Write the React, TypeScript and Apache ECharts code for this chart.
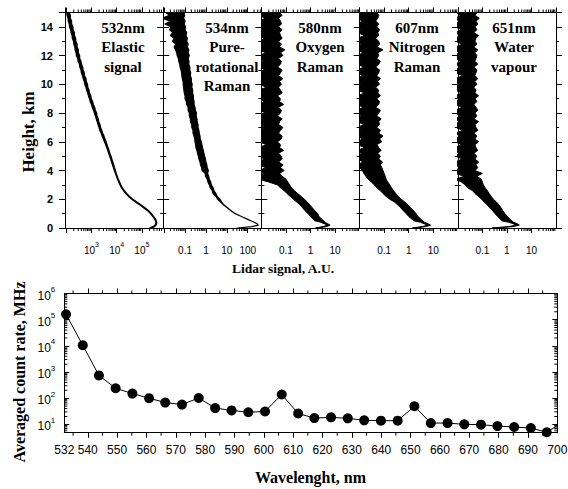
import React, { useEffect, useRef } from 'react';
import * as echarts from 'echarts';

// ---------- data ----------
const HEIGHTS = [0, 0.1, 0.2, 0.3, 0.4, 0.5, 0.6, 0.8, 1.0, 1.2, 1.4, 1.6, 1.8, 2.0, 2.2, 2.4, 2.6, 2.8, 3.0, 3.2, 3.4, 3.6, 3.8,
  4.0, 4.2, 4.4, 4.6, 4.8, 5.0, 5.2, 5.4, 5.6, 5.8, 6.0, 6.2, 6.4, 6.6, 6.8, 7.0, 7.2, 7.4, 7.6, 7.8,
  8.0, 8.2, 8.4, 8.6, 8.8, 9.0, 9.2, 9.4, 9.6, 9.8, 10.0, 10.2, 10.4, 10.6, 10.8, 11.0, 11.2, 11.4, 11.6, 11.8,
  12.0, 12.2, 12.4, 12.6, 12.8, 13.0, 13.2, 13.4, 13.6, 13.8, 14.0, 14.2, 14.4, 14.6, 14.8, 15.0];

// lower / upper edge of each noisy lidar trace, one value per height
const LO_532 = [220000, 300000, 350000, 370000, 372000, 360000, 340000,
  280000, 230000, 178000, 126000, 89000, 60000, 42000, 31000, 24000, 19500, 16200, 14100, 12600, 11200, 10200, 9300,
  8400, 7700, 7100, 6500, 6000, 5500, 5000, 4600, 4200, 3800,
  3400, 3100, 2780, 2520, 2230, 2080, 1900, 1760, 1610, 1500,
  1360, 1250, 1120, 1040, 930, 870, 790, 740, 670, 630,
  570, 540, 490, 460, 415, 400, 360, 350, 308, 298,
  265, 255, 235, 228, 208, 204, 182, 178, 162, 158,
  140, 138, 125, 123, 112, 109];
const HI_532 = [220000, 300000, 350000, 370000, 372000, 360000, 340000,
  280000, 230000, 178000, 126000, 89000, 60000, 42000, 31000, 24000, 19500, 16200, 14100, 12600, 11200, 10200, 9300,
  8700, 7950, 7350, 6750, 6250, 5750, 5200, 4800, 4400, 4000,
  3700, 3300, 3050, 2680, 2480, 2220, 2120, 1880, 1800, 1600,
  1560, 1380, 1300, 1150, 1080, 950, 920, 810, 780, 690,
  680, 605, 590, 515, 505, 450, 440, 390, 375, 332,
  330, 292, 295, 262, 262, 233, 230, 205, 205, 182,
  178, 158, 159, 141, 142, 125];

const LO_534 = [32, 160, 316, 280, 200, 141, 100,
  50, 25, 15.5, 10.4, 7.0, 5.1, 3.6, 3.0, 2.2, 2.0, 1.6, 1.45, 1.25, 1.15, 0.95, 0.92,
  0.66, 0.62, 0.55, 0.52, 0.46, 0.43, 0.40, 0.37, 0.33, 0.32,
  0.30, 0.29, 0.27, 0.24, 0.24, 0.21, 0.21, 0.18, 0.18, 0.16,
  0.16, 0.14, 0.14, 0.12, 0.115, 0.10, 0.10, 0.092, 0.088, 0.085,
  0.082, 0.08, 0.074, 0.07, 0.068, 0.064, 0.058, 0.056, 0.05, 0.048,
  0.042, 0.04, 0.035, 0.03, 0.036, 0.025, 0.03, 0.02, 0.026, 0.018,
  0.022, 0.011, 0.02, 0.008, 0.018, 0.012];
const HI_534 = [32, 160, 316, 280, 200, 141, 100,
  50, 25, 16.2, 11, 7.4, 5.7, 4.7, 3.5, 3.0, 2.4, 2.2, 1.8, 1.7, 1.45, 1.35, 1.2,
  1.3, 1.15, 1.1, 1.0, 0.95, 0.86, 0.8, 0.75, 0.68, 0.64,
  0.6, 0.53, 0.52, 0.48, 0.46, 0.42, 0.42, 0.38, 0.37, 0.34,
  0.35, 0.31, 0.3, 0.27, 0.27, 0.25, 0.25, 0.23, 0.23, 0.21,
  0.22, 0.2, 0.2, 0.18, 0.185, 0.17, 0.17, 0.15, 0.155, 0.14,
  0.16, 0.14, 0.15, 0.13, 0.14, 0.12, 0.13, 0.11, 0.12, 0.1,
  0.105, 0.09, 0.1, 0.085, 0.095, 0.09];

const LO_580 = [1.6, 3.2, 5.0, 3.6, 2.6, 1.5, 1.3,
  1.0, 0.8, 0.6, 0.48, 0.38, 0.28, 0.2, 0.15, 0.11, 0.085, 0.06, 0.045, 0.02, 0.008, 0.008, 0.012,
  0.008, 0.015, 0.008, 0.008, 0.013, 0.008, 0.008, 0.011, 0.008, 0.016,
  0.008, 0.008, 0.012, 0.008, 0.008, 0.014, 0.008, 0.008, 0.011, 0.008,
  0.015, 0.008, 0.008, 0.008, 0.013, 0.008, 0.008, 0.012, 0.008, 0.016,
  0.008, 0.008, 0.011, 0.008, 0.008, 0.014, 0.008, 0.008, 0.012, 0.008,
  0.008, 0.015, 0.008, 0.008, 0.011, 0.008, 0.013, 0.008, 0.008, 0.008,
  0.012, 0.008, 0.008, 0.014, 0.008, 0.008];
const HI_580 = [2.2, 4.5, 6.3, 5.0, 3.8, 3.5, 3.0,
  2.2, 2.0, 1.5, 1.2, 0.95, 0.75, 0.57, 0.42, 0.3, 0.22, 0.17, 0.14, 0.12, 0.1, 0.07, 0.055,
  0.085, 0.06, 0.075, 0.05, 0.07, 0.065, 0.05, 0.08, 0.055, 0.06,
  0.045, 0.065, 0.07, 0.05, 0.06, 0.075, 0.05, 0.055, 0.07, 0.045,
  0.06, 0.065, 0.05, 0.08, 0.055, 0.06, 0.045, 0.07, 0.06, 0.05,
  0.065, 0.055, 0.075, 0.05, 0.06, 0.07, 0.045, 0.06, 0.065, 0.05,
  0.075, 0.06, 0.09, 0.055, 0.065, 0.05, 0.07, 0.06, 0.055, 0.07,
  0.05, 0.065, 0.06, 0.05, 0.07, 0.055];

const LO_607 = [1.4, 3.6, 6.0, 4.2, 3.0, 1.6, 1.4,
  1.0, 0.8, 0.6, 0.48, 0.36, 0.27, 0.17, 0.12, 0.09, 0.07, 0.05, 0.04, 0.03, 0.022, 0.018, 0.015,
  0.013, 0.01, 0.008, 0.014, 0.008, 0.008, 0.012, 0.008, 0.016, 0.008,
  0.008, 0.013, 0.008, 0.008, 0.011, 0.008, 0.015, 0.008, 0.008, 0.012,
  0.008, 0.008, 0.014, 0.008, 0.011, 0.008, 0.008, 0.016, 0.008, 0.008,
  0.012, 0.008, 0.008, 0.013, 0.008, 0.008, 0.015, 0.008, 0.011, 0.008,
  0.008, 0.014, 0.008, 0.008, 0.012, 0.008, 0.008, 0.016, 0.008, 0.011,
  0.008, 0.008, 0.013, 0.008, 0.008, 0.012];
const HI_607 = [2.0, 5.0, 7.8, 6.0, 4.4, 3.8, 3.2,
  2.4, 2.0, 1.6, 1.2, 0.95, 0.7, 0.5, 0.38, 0.3, 0.24, 0.2, 0.17, 0.14, 0.12, 0.11, 0.1,
  0.09, 0.08, 0.07, 0.085, 0.06, 0.07, 0.055, 0.075, 0.06, 0.05,
  0.08, 0.065, 0.09, 0.06, 0.07, 0.05, 0.065, 0.06, 0.075, 0.05,
  0.06, 0.07, 0.045, 0.06, 0.065, 0.05, 0.07, 0.055, 0.06, 0.045,
  0.065, 0.055, 0.07, 0.05, 0.06, 0.065, 0.045, 0.06, 0.07, 0.05,
  0.06, 0.055, 0.09, 0.05, 0.065, 0.06, 0.045, 0.06, 0.055, 0.065,
  0.05, 0.06, 0.045, 0.055, 0.06, 0.05];

const LO_651 = [0.25, 1.2, 2.4, 1.8, 1.2, 0.62, 0.55,
  0.42, 0.33, 0.26, 0.2, 0.16, 0.12, 0.093, 0.07, 0.05, 0.04, 0.025, 0.02, 0.014, 0.008, 0.018, 0.008,
  0.008, 0.012, 0.008, 0.008, 0.015, 0.008, 0.011, 0.008, 0.008, 0.014,
  0.008, 0.008, 0.012, 0.008, 0.016, 0.008, 0.008, 0.011, 0.008, 0.013,
  0.008, 0.008, 0.015, 0.008, 0.008, 0.012, 0.008, 0.014, 0.008, 0.008,
  0.011, 0.008, 0.008, 0.016, 0.008, 0.008, 0.012, 0.008, 0.013, 0.008,
  0.008, 0.011, 0.008, 0.008, 0.015, 0.008, 0.008, 0.012, 0.008, 0.014,
  0.008, 0.008, 0.011, 0.008, 0.013, 0.008];
const HI_651 = [0.4, 1.8, 3.2, 2.6, 1.9, 1.6, 1.35,
  1.05, 0.83, 0.68, 0.58, 0.48, 0.38, 0.28, 0.23, 0.19, 0.16, 0.13, 0.11, 0.1, 0.09, 0.06, 0.1,
  0.05, 0.065, 0.055, 0.07, 0.05, 0.06, 0.045, 0.065, 0.055, 0.05,
  0.07, 0.05, 0.06, 0.045, 0.065, 0.055, 0.05, 0.07, 0.045, 0.06,
  0.05, 0.065, 0.055, 0.045, 0.06, 0.05, 0.07, 0.05, 0.055, 0.045,
  0.06, 0.05, 0.065, 0.05, 0.055, 0.06, 0.045, 0.065, 0.05, 0.055,
  0.06, 0.05, 0.065, 0.045, 0.06, 0.05, 0.055, 0.07, 0.045, 0.06,
  0.05, 0.065, 0.055, 0.075, 0.05, 0.06];

const PANEL_LO = [LO_532, LO_534, LO_580, LO_607, LO_651];
const PANEL_HI = [HI_532, HI_534, HI_580, HI_607, HI_651];
const PANEL_TITLES = ['532nm\nElastic\nsignal', '534nm\nPure-\nrotational\nRaman', '580nm\nOxygen\nRaman', '607nm\nNitrogen\nRaman', '651nm\nWater\nvapour'];
const PANEL_MIN = [90, 0.009, 0.01, 0.01, 0.01];
const PANEL_MAX = [700000, 450, 100, 100, 100];
const PANEL_LABELS = [[1000, 10000, 100000], [0.1, 1, 10, 100], [0.1, 1, 10], [0.1, 1, 10], [0.1, 1, 10]];
const PANEL_STROKE = [2, 1.2, 1, 1, 1];
const HEIGHT_MAX = 15;

const WAVELENGTHS = [532.6, 538.3, 543.8, 549.5, 555.2, 560.9, 566.4, 572.1, 577.8, 583.4, 589.0, 594.7, 600.4, 606.1, 611.7,
  617.2, 622.9, 628.6, 634.2, 639.9, 645.6, 651.3, 656.9, 662.6, 668.3, 674.0, 679.6, 685.3, 691.0, 696.4, 702.3];
const COUNT_RATES = [160000, 10500, 740, 240, 150, 100, 68, 57, 102, 42, 34, 29, 31, 138, 26,
  17.4, 18.5, 17, 14.2, 13.8, 13.8, 49, 11.2, 11.2, 10, 9.7, 8.6, 7.9, 7.2, 5.0, 13];
const WL_MIN = 532, WL_MAX = 700;
const WL_LABELS = [532, 540, 550, 560, 570, 580, 590, 600, 610, 620, 630, 640, 650, 660, 670, 680, 690, 700];
const WL_MAJOR = [540, 550, 560, 570, 580, 590, 600, 610, 620, 630, 640, 650, 660, 670, 680, 690];
const WL_MINOR = [535, 545, 555, 565, 575, 585, 595, 605, 615, 625, 635, 645, 655, 665, 675, 685, 695];
const RATE_MIN = 4.8, RATE_MAX = 1000000;

const LOG_MULTS = [2, 3, 4, 5, 6, 7, 8, 9];
const DECADES = [0.001, 0.01, 0.1, 1, 10, 100, 1000, 10000, 100000, 1000000];

// ---------- layout ----------
const SERIF = '"Liberation Serif", "Times New Roman", serif';
const SANS = '"Liberation Sans", Arial, sans-serif';
const TOP_Y = 12.5, TOP_H = 215.5, P_LEFT = 65, P_W = 98.2;
const B_LEFT = 64.3, B_TOP = 293.5, B_W = 493, B_H = 139.2;
const TITLE_X = [123, 227, 320, 417, 514];

const minorList = (min: number, max: number) =>
  DECADES.flatMap(d => LOG_MULTS.map(m => +(m * d).toPrecision(6))).filter(v => v > min * 1.0001 && v < max * 0.9999);

const isNear = (v: number, l: number) => Math.abs(Math.log10(v) - Math.log10(l)) < 0.01;

export default function App() {
  const ref = useRef<HTMLDivElement>(null);
  useEffect(() => {
    if (!ref.current) return;
    const chart = echarts.init(ref.current, undefined, { renderer: 'svg' });
    const black = '#000';
    const grids: any[] = [];
    const xAxes: any[] = [];
    const yAxes: any[] = [];
    const series: any[] = [];
    const graphics: any[] = [];
    const tickLine = (x1: number, y1: number, x2: number, y2: number) =>
      ({ type: 'line', shape: { x1, y1, x2, y2 }, style: { stroke: black, lineWidth: 1 } });

    const richTop = {
      b: { fontSize: 10, lineHeight: 14, verticalAlign: 'bottom', fontFamily: SANS, color: black },
      s: { fontSize: 7, lineHeight: 7, verticalAlign: 'top', fontFamily: SANS, color: black },
    };

    for (let i = 0; i < 5; i++) {
      grids.push({ left: P_LEFT + i * P_W, top: TOP_Y, width: P_W, height: TOP_H, containLabel: false, outerBoundsMode: 'none' });
      const labels = PANEL_LABELS[i];
      const common = {
        type: 'log', logBase: 10, gridIndex: i, min: PANEL_MIN[i], max: PANEL_MAX[i],
        axisLine: { show: true, onZero: false, lineStyle: { color: black, width: 1 } },
        axisTick: { show: true, inside: false, length: 5, lineStyle: { color: black, width: 1 } },
        splitLine: { show: false },
      };
      xAxes.push({
        ...common, position: 'bottom',
        axisLabel: {
          show: true, margin: 13, interval: 0, showMinLabel: false, showMaxLabel: false, rich: richTop,
          formatter: (v: number) => {
            const l = labels.find(x => isNear(v, x));
            if (l === undefined) return '';
            if (i === 0) return `{b|10}{s|${Math.round(Math.log10(l))}}`;
            return `{b|${l}}`;
          },
        },
      });
      xAxes.push({ ...common, position: 'top', axisLabel: { show: false } });
      const yCommon = {
        type: 'value', gridIndex: i, min: 0, max: HEIGHT_MAX, interval: 2,
        axisLine: { show: true, onZero: false, lineStyle: { color: black, width: 1 } },
        axisTick: { show: true, inside: false, length: 6, lineStyle: { color: black, width: 1 } },
        minorTick: { show: true, splitNumber: 2, length: 3, lineStyle: { color: black, width: 1 } },
        splitLine: { show: false },
        minorSplitLine: { show: false },
      };
      yAxes.push({
        ...yCommon, position: 'left',
        axisLabel: {
          show: i === 0, margin: 12, fontSize: 11, fontWeight: 'bold', color: black, fontFamily: SANS,
          showMaxLabel: false,
        },
      });
      yAxes.push({ ...yCommon, position: 'right', axisLabel: { show: false } });

      const lo = PANEL_LO[i], hi = PANEL_HI[i];
      series.push({
        type: 'custom', xAxisIndex: 2 * i, yAxisIndex: 2 * i, silent: true, clip: true, z: 3,
        data: [[lo[0], HEIGHTS[0]]],
        renderItem: (_p: any, api: any) => {
          const left = HEIGHTS.map((h, k) => api.coord([lo[k], h]));
          const right = HEIGHTS.map((h, k) => api.coord([hi[k], h])).reverse();
          return {
            type: 'polygon', shape: { points: left.concat(right) },
            style: { fill: black, stroke: black, lineWidth: PANEL_STROKE[i], lineJoin: 'round' },
          };
        },
      });
      series.push({
        type: 'custom', xAxisIndex: 2 * i, yAxisIndex: 2 * i, silent: true, clip: false,
        data: minorList(PANEL_MIN[i], PANEL_MAX[i]).map(v => [v, 0]),
        renderItem: (_p: any, api: any) => {
          const v = api.value(0);
          const b = api.coord([v, 0]);
          const t = api.coord([v, HEIGHT_MAX]);
          return { type: 'group', children: [tickLine(b[0], b[1], b[0], b[1] + 3), tickLine(t[0], t[1], t[0], t[1] - 3)] };
        },
      });
      graphics.push({
        type: 'text', x: TITLE_X[i], y: 17.75, z: 10,
        style: {
          text: PANEL_TITLES[i], align: 'center', verticalAlign: 'top', lineHeight: 19.5,
          fontSize: 15, fontWeight: 'bold', fontFamily: SERIF, fill: black,
        },
      });
    }

    // bottom chart
    grids.push({ left: B_LEFT, top: B_TOP, width: B_W, height: B_H, containLabel: false, outerBoundsMode: 'none' });
    const bx = {
      type: 'value', gridIndex: 5, min: WL_MIN, max: WL_MAX,
      axisLine: { show: true, onZero: false, lineStyle: { color: black, width: 1 } },
      axisTick: { show: true, inside: false, length: 5, customValues: WL_MAJOR, lineStyle: { color: black, width: 1 } },
      splitLine: { show: false },
    };
    xAxes.push({
      ...bx, position: 'bottom',
      axisLabel: { show: true, margin: 11, fontSize: 12, color: black, fontFamily: SANS, customValues: WL_LABELS, hideOverlap: false },
    });
    xAxes.push({ ...bx, position: 'top', axisLabel: { show: false } });
    const by = {
      type: 'log', logBase: 10, gridIndex: 5, min: RATE_MIN, max: RATE_MAX,
      axisLine: { show: true, onZero: false, lineStyle: { color: black, width: 1 } },
      axisTick: { show: true, inside: true, length: 5, lineStyle: { color: black, width: 1 } },
      splitLine: { show: false },
    };
    yAxes.push({
      ...by, position: 'left',
      axisLabel: {
        show: true, margin: 9, showMinLabel: false,
        rich: {
          b: { fontSize: 12, lineHeight: 16, verticalAlign: 'bottom', fontFamily: SANS, color: black },
          s: { fontSize: 8, lineHeight: 8, verticalAlign: 'top', fontFamily: SANS, color: black },
        },
        formatter: (v: number) => {
          const e = Math.log10(v);
          if (Math.abs(e - Math.round(e)) > 0.01) return '';
          return `{b|10}{s|${Math.round(e)}}`;
        },
      },
    });
    yAxes.push({ ...by, position: 'right', axisLabel: { show: false } });

    series.push({
      type: 'line', xAxisIndex: 10, yAxisIndex: 10,
      data: WAVELENGTHS.map((w, k) => [w, COUNT_RATES[k]]),
      symbol: 'circle', symbolSize: 10, showSymbol: true, clip: true, silent: true,
      itemStyle: { color: black },
      lineStyle: { color: black, width: 1 },
      z: 3,
    });
    series.push({
      type: 'custom', xAxisIndex: 10, yAxisIndex: 10, silent: true, clip: false,
      data: minorList(RATE_MIN, RATE_MAX).map(v => [WL_MIN, v]),
      renderItem: (_p: any, api: any) => {
        const v = api.value(1);
        const l = api.coord([WL_MIN, v]);
        const r = api.coord([WL_MAX, v]);
        return { type: 'group', children: [tickLine(l[0], l[1], l[0] + 3, l[1]), tickLine(r[0], r[1], r[0] - 3, r[1])] };
      },
    });
    series.push({
      type: 'custom', xAxisIndex: 10, yAxisIndex: 10, silent: true, clip: false,
      data: WL_MINOR.map(w => [w, RATE_MIN]),
      renderItem: (_p: any, api: any) => {
        const w = api.value(0);
        const b = api.coord([w, RATE_MIN]);
        const t = api.coord([w, RATE_MAX]);
        return { type: 'group', children: [tickLine(b[0], b[1], b[0], b[1] + 3), tickLine(t[0], t[1], t[0], t[1] - 3)] };
      },
    });

    const axisTitle = (text: string, x: number, y: number, size: number, rot = 0) => ({
      type: 'text', x, y, rotation: rot, z: 10,
      style: { text, align: 'center', verticalAlign: 'middle', fontSize: size, fontWeight: 'bold', fontFamily: SERIF, fill: black },
    });
    graphics.push(axisTitle('Height, km', 28, 132, 17, Math.PI / 2));
    graphics.push(axisTitle('Lidar signal, A.U.', 283, 268, 13.5));
    graphics.push(axisTitle('Averaged count rate, MHz', 19, 372, 16, Math.PI / 2));
    graphics.push(axisTitle('Wavelenght, nm', 310.5, 477, 16));

    chart.setOption({
      animation: false,
      backgroundColor: '#fff',
      grid: grids,
      xAxis: xAxes,
      yAxis: yAxes,
      series,
      graphic: graphics,
    });
    return () => chart.dispose();
  }, []);
  return <div ref={ref} style={{ position: 'fixed', left: 0, top: 0, width: 568, height: 489, background: '#fff' }} />;
}
